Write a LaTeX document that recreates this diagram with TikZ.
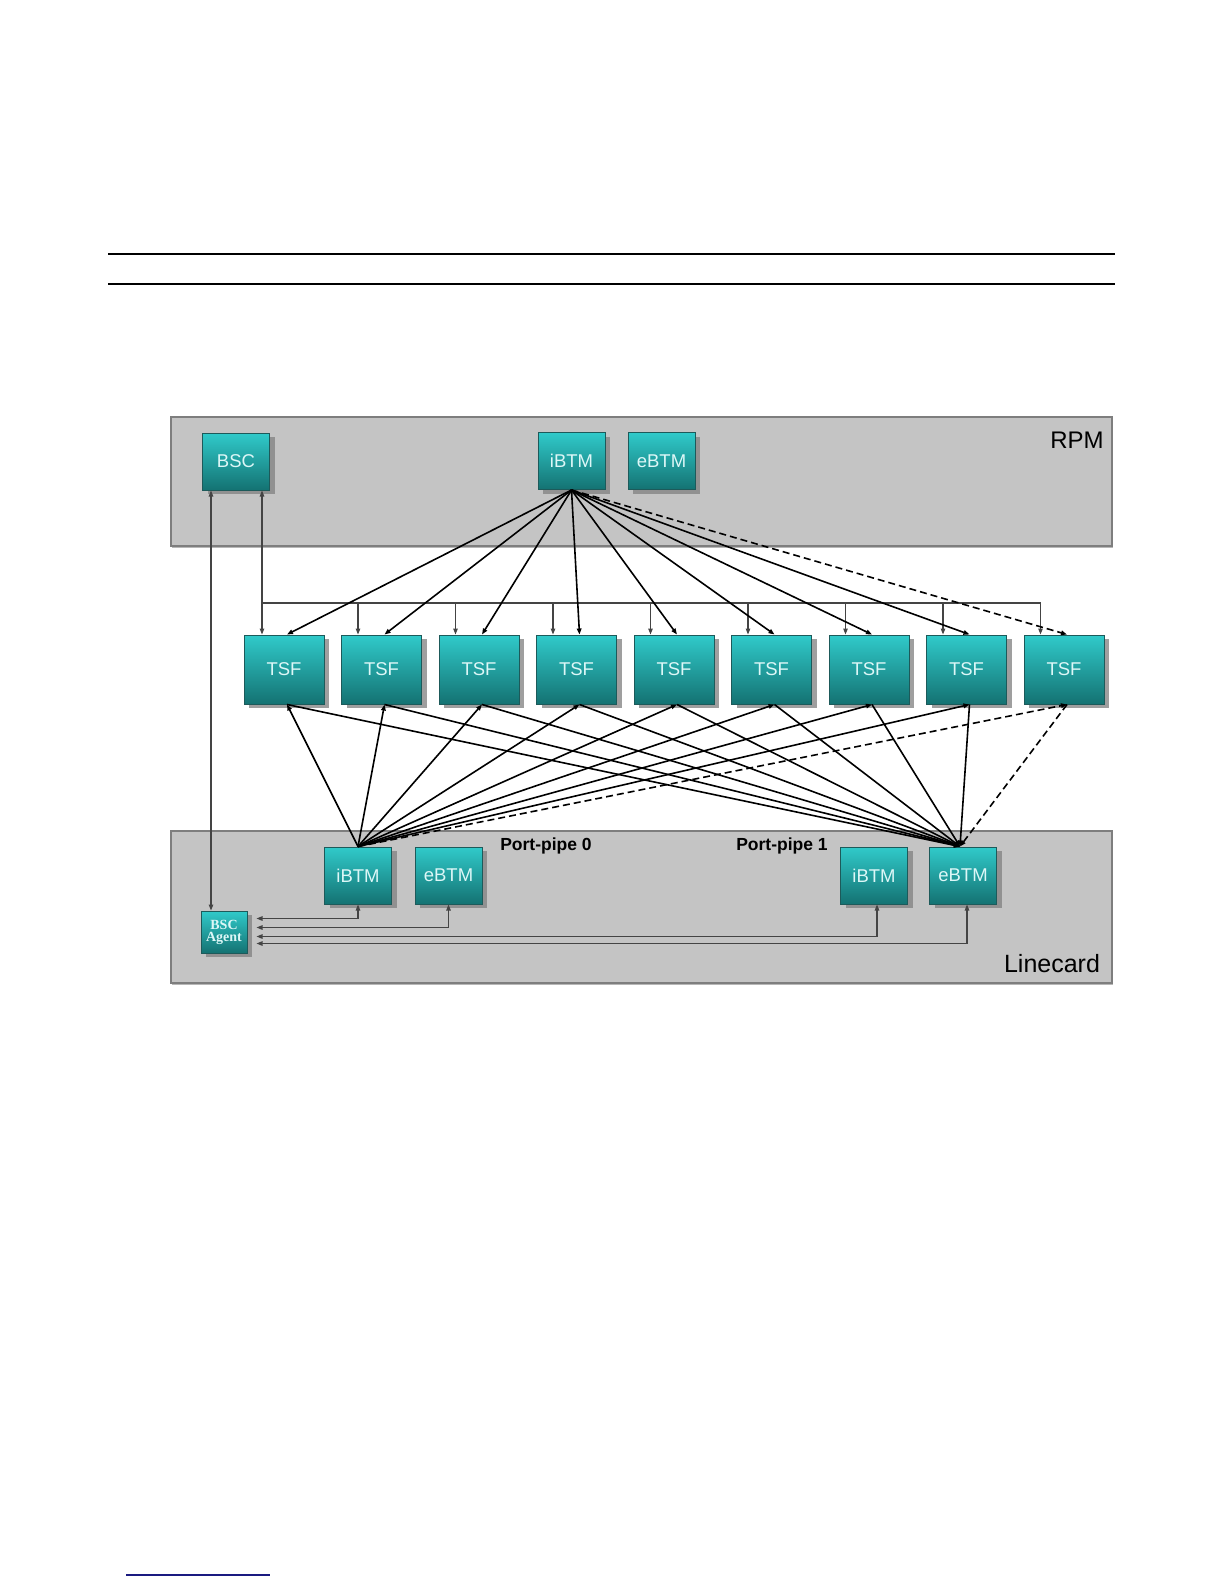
\documentclass[tikz,border=0pt]{standalone}
\usepackage{fontspec}
\setmainfont{Liberation Sans}
\newfontfamily\agentfont{Liberation Serif}
\usetikzlibrary{arrows.meta,shadows,calc}
\definecolor{tealtop}{HTML}{30CACA}
\definecolor{tealbot}{HTML}{147272}
\definecolor{tealborder}{HTML}{1D5A5A}
\definecolor{boxtext}{HTML}{DDF7F7}
\definecolor{panelfill}{HTML}{C4C4C4}
\definecolor{panelborder}{HTML}{7E7E7E}
\definecolor{busline}{HTML}{444444}
\definecolor{navyline}{HTML}{1A1A80}
\begin{document}
\begin{tikzpicture}[x=1pt,y=-1pt,
  >={Triangle[length=6pt,width=4.5pt]},
  panel/.style={draw=panelborder,line width=2pt,fill=panelfill,
    drop shadow={shadow xshift=1pt,shadow yshift=-2pt,fill=black!35,opacity=0.8}},
  tbox/.style={draw=tealborder,line width=1pt,top color=tealtop,bottom color=tealbot,
    text=boxtext,font=\fontsize{18.5}{20}\selectfont,inner sep=0pt,
    drop shadow={shadow xshift=5pt,shadow yshift=-4pt,fill=black!50,opacity=0.75}},
  btm/.style={tbox,minimum width=67pt,minimum height=57pt},
  tsf/.style={tbox,minimum width=80pt,minimum height=69pt},
  agentbox/.style={tbox,minimum width=46pt,minimum height=42pt,
    font=\agentfont\bfseries\fontsize{14}{14}\selectfont,align=center},
  fan/.style={line width=1.6pt,black},
  fandash/.style={fan,dash pattern=on 7pt off 4pt},
  bus/.style={line width=1.1pt,busline},
  ctl/.style={line width=1.1pt,busline},
  bigtext/.style={font=\fontsize{24}{26}\selectfont,text=black,inner sep=0pt},
  pptext/.style={font=\bfseries\fontsize{17.5}{19}\selectfont,text=black,inner sep=0pt}
]
\useasboundingbox (0,0) rectangle (1224,1584);
\fill[white] (0,0) rectangle (1224,1584);

% header rules and footer line
\draw[line width=2.5pt] (108,254) -- (1115,254);
\draw[line width=2.5pt] (108,284) -- (1115,284);
\draw[navyline,line width=1.6pt] (126,1575) -- (270,1575);

% panels
\path[panel] (171,417) rectangle (1112,546);
\path[panel] (171,831) rectangle (1112,983);
\node[bigtext] (rpmlabel) at (1077,440) {RPM};
\node[bigtext,font=\fontsize{25}{27}\selectfont] (lclabel) at (1052,964) {Linecard};
\node[pptext] (pp0label) at (546,846) {Port-pipe 0};
\node[pptext] (pp1label) at (782,846) {Port-pipe 1};

% RPM boxes
\node[btm] (bsc) at (236,461.5) {BSC};
\node[btm] (rib) at (571.5,461) {iBTM};
\node[btm] (reb) at (661.5,461) {eBTM};

% TSF row
\foreach \i in {0,...,8}{
  \node[tsf] (tsf\i) at ({284+97.5*\i},669.5) {TSF};
  \coordinate (drop\i) at ($(tsf\i.north west)+(17,0)$);
}

% Linecard boxes
\node[btm] (pib0) at (358,875.5) {iBTM};
\node[btm] (peb0) at (448.5,875.5) {eBTM};
\node[btm] (pib1) at (874,875.5) {iBTM};
\node[btm] (peb1) at (963,875.5) {eBTM};
\node[agentbox] (agent) at (224,932) {BSC\\[-2pt]Agent};

% BSC bus to TSFs
\coordinate (busL) at (261,603);
\coordinate (bsctap) at ([xshift=-8pt]bsc.south east);
\draw[bus,<->] (bsctap) -- (bsctap |- tsf0.north);
\draw[bus] (bsctap |- busL) -- (drop8 |- busL);
\foreach \i in {1,...,8}{
  \draw[bus,->] (drop\i |- busL) -- (drop\i);
}

% BSC to BSC Agent
\coordinate (bscagenttap) at ([xshift=9pt]bsc.south west);
\draw[ctl,<->] (bscagenttap) -- (bscagenttap |- agent.north);

% BSC Agent to linecard BTMs
\draw[ctl,<->] ($(agent.north east)+(9,8)$) -| (pib0.south);
\draw[ctl,<->] ($(agent.north east)+(9,17)$) -| (peb0.south);
\draw[ctl,<->] ($(agent.north east)+(9,26)$) -| ([xshift=3pt]pib1.south);
\draw[ctl,<->] ($(agent.north east)+(9,33)$) -| ([xshift=4pt]peb1.south);

% RPM iBTM fan-out to TSFs
\foreach \i in {0,...,7}{
  \draw[fan,->] (rib.south) -- ([xshift=3pt]tsf\i.north);
}
\draw[fandash,->] (rib.south) -- ([xshift=3pt]tsf8.north);

% Linecard iBTM (port-pipe 0) to TSFs, TSFs to eBTM (port-pipe 1)
\foreach \i in {0,...,7}{
  \draw[fan,->] (pib0.north) -- ([xshift=3pt]tsf\i.south);
  \draw[fan,->] ([xshift=3pt]tsf\i.south) -- ([xshift=-3pt]peb1.north);
}
\draw[fandash,->] (pib0.north) -- ([xshift=3pt]tsf8.south);
\draw[fandash,->] ([xshift=3pt]tsf8.south) -- ([xshift=-3pt]peb1.north);
\end{tikzpicture}
\end{document}
